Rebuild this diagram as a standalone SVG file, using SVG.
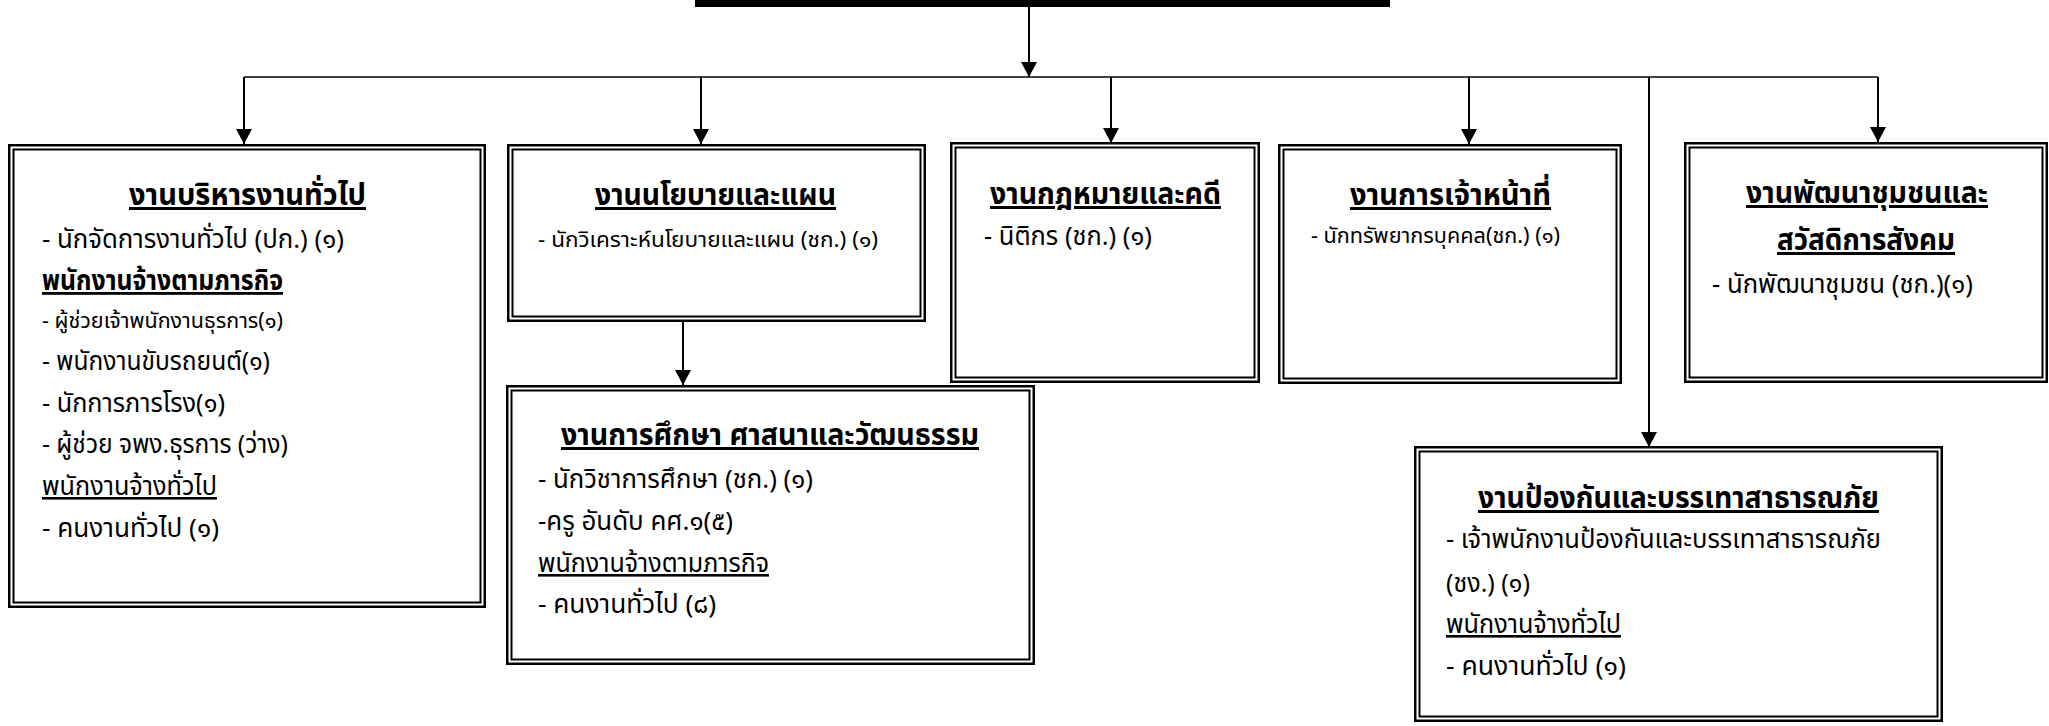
<svg xmlns="http://www.w3.org/2000/svg" width="2049" height="726" viewBox="0 0 2049 726">
<style>
text{font-family:"Noto Sans Thai","Noto Sans Thai UI","Loma","Garuda","Norasi","Sarabun","Noto Sans",sans-serif;fill:#000}
.t{font-size:30px;font-weight:bold;text-decoration:underline}
.b{font-size:26px}
.s{font-size:22px}
.h{font-size:28px;font-weight:bold;text-decoration:underline}
.u{font-size:26px;text-decoration:underline}
.o{fill:#fff;stroke:#000;stroke-width:2.5}
.i{fill:none;stroke:#000;stroke-width:2}
.c line{stroke:#000;stroke-width:2}
.c line.a{marker-end:url(#ar)}
</style>
<defs>
<marker id="ar" viewBox="0 0 15 16" refX="15" refY="8" markerWidth="15" markerHeight="16" markerUnits="userSpaceOnUse" orient="auto">
<path d="M0,0 L15,8 L0,16 Z" fill="#000"/>
</marker>
</defs>
<rect id="top-bar" x="695" y="0" width="695" height="7" fill="#000"/>
<g class="c" id="connectors">
<line class="a" x1="1029" y1="7" x2="1029" y2="77"/>
<line x1="244" y1="77" x2="1878" y2="77" style="stroke-width:1.6"/>
<line class="a" x1="244" y1="77" x2="244" y2="144"/>
<line class="a" x1="701" y1="77" x2="701" y2="144"/>
<line class="a" x1="1111" y1="77" x2="1111" y2="143"/>
<line class="a" x1="1469" y1="77" x2="1469" y2="144"/>
<line class="a" x1="1649" y1="77" x2="1649" y2="447"/>
<line class="a" x1="1878" y1="77" x2="1878" y2="142"/>
<line class="a" x1="683" y1="322" x2="683" y2="385"/>
</g>
<g id="box-admin">
<rect class="o" x="9.25" y="145.25" width="475.5" height="461.5"/>
<rect class="i" x="13.5" y="149.5" width="467" height="453"/>
<text class="t" x="129" y="205" textLength="237" lengthAdjust="spacingAndGlyphs">งานบริหารงานทั่วไป</text>
<text class="b" x="42" y="248" textLength="302" lengthAdjust="spacingAndGlyphs">- นักจัดการงานทั่วไป (ปก.) (๑)</text>
<text class="h" x="42" y="290" textLength="241" lengthAdjust="spacingAndGlyphs">พนักงานจ้างตามภารกิจ</text>
<text class="s" x="42" y="328" textLength="241" lengthAdjust="spacingAndGlyphs">- ผู้ช่วยเจ้าพนักงานธุรการ(๑)</text>
<text class="b" x="42" y="370" textLength="228" lengthAdjust="spacingAndGlyphs">- พนักงานขับรถยนต์(๑)</text>
<text class="b" x="42" y="412" textLength="183" lengthAdjust="spacingAndGlyphs">- นักการภารโรง(๑)</text>
<text class="b" x="42" y="453" textLength="246" lengthAdjust="spacingAndGlyphs">- ผู้ช่วย จพง.ธุรการ (ว่าง)</text>
<text class="u" x="42" y="495" textLength="175" lengthAdjust="spacingAndGlyphs">พนักงานจ้างทั่วไป</text>
<text class="b" x="42" y="537" textLength="177" lengthAdjust="spacingAndGlyphs">- คนงานทั่วไป (๑)</text>
</g>
<g id="box-policy">
<rect class="o" x="508.25" y="145.25" width="416.5" height="175.5"/>
<rect class="i" x="512.5" y="149.5" width="408" height="167"/>
<text class="t" x="595" y="205" textLength="241" lengthAdjust="spacingAndGlyphs">งานนโยบายและแผน</text>
<text class="s" x="538" y="247" textLength="340" lengthAdjust="spacingAndGlyphs">- นักวิเคราะห์นโยบายและแผน (ชก.) (๑)</text>
</g>
<g id="box-law">
<rect class="o" x="951.25" y="143.25" width="307.5" height="238.5"/>
<rect class="i" x="955.5" y="147.5" width="299" height="230"/>
<text class="t" x="990" y="204" textLength="231" lengthAdjust="spacingAndGlyphs">งานกฎหมายและคดี</text>
<text class="b" x="984" y="245" textLength="168" lengthAdjust="spacingAndGlyphs">- นิติกร (ชก.) (๑)</text>
</g>
<g id="box-personnel">
<rect class="o" x="1279.25" y="145.25" width="341.5" height="237.5"/>
<rect class="i" x="1283.5" y="149.5" width="333" height="229"/>
<text class="t" x="1350" y="205" textLength="201" lengthAdjust="spacingAndGlyphs">งานการเจ้าหน้าที่</text>
<text class="s" x="1311" y="243" textLength="249" lengthAdjust="spacingAndGlyphs">- นักทรัพยากรบุคคล(ชก.) (๑)</text>
</g>
<g id="box-community">
<rect class="o" x="1685.25" y="143.25" width="361.5" height="238.5"/>
<rect class="i" x="1689.5" y="147.5" width="353" height="230"/>
<text class="t" x="1746" y="203" textLength="242" lengthAdjust="spacingAndGlyphs">งานพัฒนาชุมชนและ</text>
<text class="t" x="1777" y="250" textLength="178" lengthAdjust="spacingAndGlyphs">สวัสดิการสังคม</text>
<text class="b" x="1712" y="293" textLength="261" lengthAdjust="spacingAndGlyphs">- นักพัฒนาชุมชน (ชก.)(๑)</text>
</g>
<g id="box-education">
<rect class="o" x="507.25" y="386.25" width="526.5" height="277.5"/>
<rect class="i" x="511.5" y="390.5" width="518" height="269"/>
<text class="t" x="561" y="445" textLength="418" lengthAdjust="spacingAndGlyphs">งานการศึกษา ศาสนาและวัฒนธรรม</text>
<text class="b" x="538" y="488" textLength="275" lengthAdjust="spacingAndGlyphs">- นักวิชาการศึกษา (ชก.) (๑)</text>
<text class="b" x="538" y="530" textLength="195" lengthAdjust="spacingAndGlyphs">-ครู อันดับ คศ.๑(๕)</text>
<text class="u" x="538" y="572" textLength="231" lengthAdjust="spacingAndGlyphs">พนักงานจ้างตามภารกิจ</text>
<text class="b" x="538" y="613" textLength="178" lengthAdjust="spacingAndGlyphs">- คนงานทั่วไป (๘)</text>
</g>
<g id="box-disaster">
<rect class="o" x="1415.25" y="447.25" width="526.5" height="273.5"/>
<rect class="i" x="1419.5" y="451.5" width="518" height="265"/>
<text class="t" x="1478" y="508" textLength="401" lengthAdjust="spacingAndGlyphs">งานป้องกันและบรรเทาสาธารณภัย</text>
<text class="b" x="1446" y="548" textLength="435" lengthAdjust="spacingAndGlyphs">- เจ้าพนักงานป้องกันและบรรเทาสาธารณภัย</text>
<text class="b" x="1446" y="592" textLength="84" lengthAdjust="spacingAndGlyphs">(ชง.) (๑)</text>
<text class="u" x="1446" y="633" textLength="175" lengthAdjust="spacingAndGlyphs">พนักงานจ้างทั่วไป</text>
<text class="b" x="1446" y="675" textLength="180" lengthAdjust="spacingAndGlyphs">- คนงานทั่วไป (๑)</text>
</g>
</svg>
